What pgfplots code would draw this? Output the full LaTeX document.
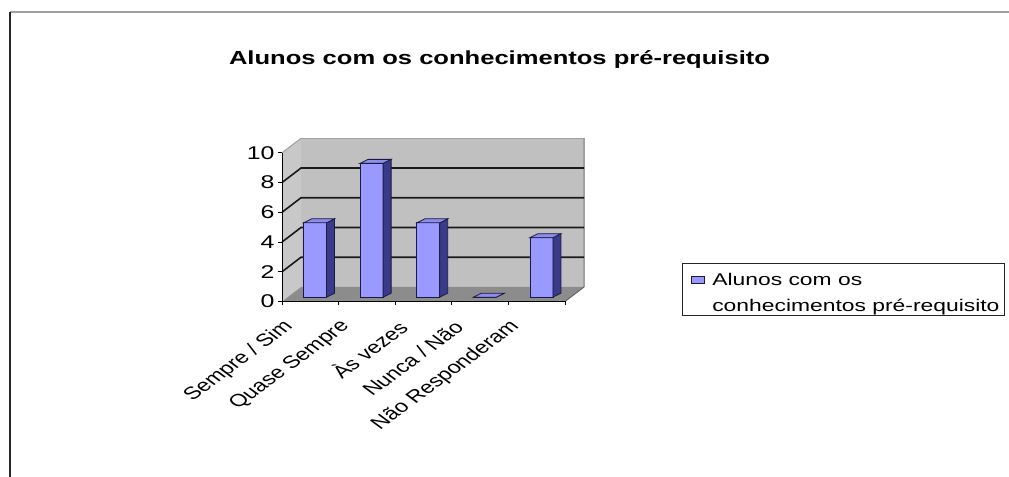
\documentclass[border=0pt]{standalone}
\usepackage{fontspec}
\setmainfont[FakeStretch=1.35]{Liberation Sans}
\newfontfamily\plainsans{Liberation Sans}
\usepackage{pgfplots}
\usepackage{pgfplotstable}
\pgfplotsset{compat=1.18}
\usetikzlibrary{calc}

\definecolor{barfront}{HTML}{9999FF}
\definecolor{barside}{HTML}{3A3A8A}
\definecolor{bartop}{HTML}{8C8CEB}
\definecolor{baredge}{HTML}{1A1A40}
\definecolor{wallback}{HTML}{C0C0C0}
\definecolor{wallside}{HTML}{C8C8C8}
\definecolor{floorgray}{HTML}{8C8C8C}
\definecolor{edgegray}{HTML}{A0A0A0}

% answers per category
\pgfplotstableread{
idx value
0 5
1 9
2 5
3 0
4 4
}\pupils

\begin{document}
\begin{tikzpicture}
\useasboundingbox (0,0) rectangle (1009bp,477bp);
% outer frame
\draw[line width=2bp, edgegray] (10bp,465bp) -- (1009bp,465bp);
\draw[line width=2.5bp, black!85] (10bp,465bp) -- (10bp,0bp);
% title
\node[anchor=base, font=\fontsize{19}{23}\selectfont\bfseries] at (499.5bp,412bp)
  {Alunos com os conhecimentos pré-requisito};

\begin{axis}[
  scale only axis, width=283bp, height=148.7bp,
  at={(282bp,175.5bp)}, anchor=south west,
  xmin=-0.5, xmax=4.5, ymin=0, ymax=10,
  clip=false, axis on top,
  axis x line*=bottom, axis y line*=left,
  axis line style={black, line width=1bp, -},
  tick style={black, line width=1bp},
  tick align=outside, major tick length=4bp,
  ytick={0,2,...,10},
  yticklabel style={font=\fontsize{18.5}{20}\selectfont, /pgf/number format/assume math mode=true},
  xtick={-0.5,0.5,...,4.5},
  x tick label as interval,
  xticklabels={Sempre / Sim, Quase Sempre, Às vezes, Nunca / Não, Não Responderam},
  xticklabel style={font=\plainsans\fontsize{17.5}{20}\selectfont,
    xshift=-19bp, yshift=-17bp,
    cm={0.9546,0.7071,-0.9546,0.7071,(0,0)}, anchor=east, inner sep=2bp},
  legend style={at={(axis cs:6.567,2.589)}, anchor=north west,
    draw=black!85, line width=1bp, fill=white,
    font=\fontsize{17}{25.7}\selectfont,
    nodes={align=left}, inner xsep=3bp, inner ysep=1bp},
  legend cell align=left,
]
% back wall
\fill[wallback] ($(axis cs:-0.5,0)+(19bp,14.5bp)$) rectangle ($(axis cs:4.5,10)+(19bp,14.5bp)$);
\draw[edgegray, line width=1.5bp] ($(axis cs:-0.5,10)+(19bp,14.5bp)$) -- ($(axis cs:4.5,10)+(19bp,14.5bp)$) -- ($(axis cs:4.5,0)+(19bp,14.5bp)$);
% side wall
\fill[wallside] (axis cs:-0.5,0) -- (axis cs:-0.5,10) -- ($(axis cs:-0.5,10)+(19bp,14.5bp)$) -- ($(axis cs:-0.5,0)+(19bp,14.5bp)$) -- cycle;
\draw[edgegray, line width=1bp] (axis cs:-0.5,10) -- ($(axis cs:-0.5,10)+(19bp,14.5bp)$);
% floor
\fill[floorgray] (axis cs:-0.5,0) -- (axis cs:4.5,0) -- ($(axis cs:4.5,0)+(19bp,14.5bp)$) -- ($(axis cs:-0.5,0)+(19bp,14.5bp)$) -- cycle;
\draw[black!60, line width=1bp] (axis cs:4.5,0) -- ($(axis cs:4.5,0)+(19bp,14.5bp)$);
% grid lines on walls
\pgfplotsinvokeforeach{2,4,6,8}{
  \draw[black!90, line width=1.6bp] (axis cs:-0.5,#1) -- ($(axis cs:-0.5,#1)+(19bp,14.5bp)$) -- ($(axis cs:4.5,#1)+(19bp,14.5bp)$);
}
% bar front faces
\addplot[ybar, bar width=23bp, fill=barfront, draw=baredge, line width=0.8bp,
  xshift=4.7bp, yshift=4.3bp,
  legend image code/.code={
    \path (0bp,0bp) (24bp,0bp);
    \draw[fill=barfront, draw=baredge, line width=0.8bp] (6bp,2bp) rectangle (19bp,9bp);}]
  table[x=idx, y=value] {\pupils};
\addlegendentry{\rule{0pt}{19bp}Alunos com os\\conhecimentos pré-requisito\rule[-7bp]{0pt}{7bp}}
% bar depth: side and top faces
\addplot[forget plot, only marks, scatter, mark=*, mark size=0pt,
  xshift=4.7bp, yshift=4.3bp,
  visualization depends on={rawy \as \barval},
  scatter/@pre marker code/.code={
    \pgfmathsetmacro\hb{\barval*14.87}
    \filldraw[fill=barside, draw=baredge, line width=0.8bp, fill opacity=1, draw opacity=1]
      (11.5bp,0bp) -- (19.5bp,4bp) -- (19.5bp,{(4-\hb)*1bp}) -- (11.5bp,{-\hb*1bp}) -- cycle;
    \filldraw[fill=bartop, draw=baredge, line width=0.8bp, fill opacity=1, draw opacity=1]
      (-11.5bp,0bp) -- (11.5bp,0bp) -- (19.5bp,4bp) -- (-3.5bp,4bp) -- cycle;
  },
  scatter/@post marker code/.code={}]
  table[x=idx, y=value] {\pupils};
\end{axis}
\end{tikzpicture}
\end{document}
